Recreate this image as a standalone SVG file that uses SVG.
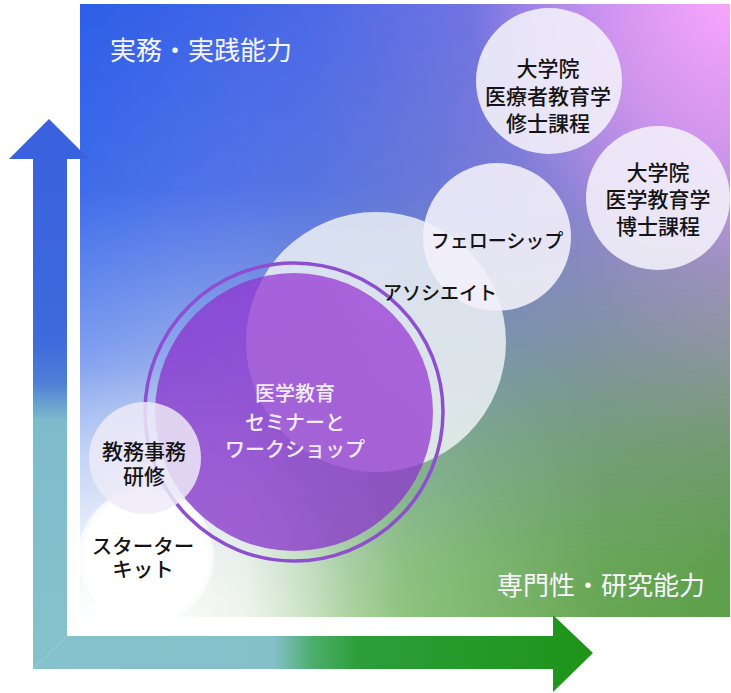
<svg xmlns="http://www.w3.org/2000/svg" width="731" height="693" viewBox="0 0 731 693">
<defs>
<style>
text{font-family:"Liberation Sans","Noto Sans CJK JP","Noto Sans CJK SC",sans-serif;text-anchor:middle;font-weight:500}
.dk{fill:#141414;font-size:21px}
.sk{fill:#141414;font-size:20.5px}
.md{fill:#141414;font-size:19px}
.wt{fill:#f3ecfa;font-size:20px}
.ax{fill:#f6f6fb;font-size:26px;text-anchor:start;font-weight:400}
.lt{fill:#f2eff9;fill-opacity:0.9}
</style>
<linearGradient id="gTop" gradientUnits="userSpaceOnUse" x1="80" y1="0" x2="731" y2="0">
<stop offset="0" stop-color="#2c5ee8"/>
<stop offset="0.35" stop-color="#4b68e6"/>
<stop offset="0.62" stop-color="#7474e2"/>
<stop offset="0.85" stop-color="#a184e6"/>
<stop offset="1" stop-color="#b88cec"/>
</linearGradient>
<linearGradient id="gBot" gradientUnits="userSpaceOnUse" x1="80" y1="0" x2="731" y2="0">
<stop offset="0" stop-color="#d8e4f8"/>
<stop offset="0.15" stop-color="#eef4f0"/>
<stop offset="0.25" stop-color="#e8f1e4"/>
<stop offset="0.5" stop-color="#8ec47e"/>
<stop offset="0.8" stop-color="#68a854"/>
<stop offset="1" stop-color="#5ca048"/>
</linearGradient>
<linearGradient id="gMask" x1="0" y1="0" x2="0" y2="1">
<stop offset="0" stop-color="#fff"/>
<stop offset="0.3" stop-color="#e6e6e6"/>
<stop offset="0.55" stop-color="#8c8c8c"/>
<stop offset="0.72" stop-color="#404040"/>
<stop offset="0.9" stop-color="#0d0d0d"/>
<stop offset="1" stop-color="#000"/>
</linearGradient>
<mask id="mTop" maskUnits="userSpaceOnUse" x="0" y="0" width="731" height="693">
<rect x="80" y="4" width="650" height="613" fill="url(#gMask)"/>
</mask>
<radialGradient id="gPink" gradientUnits="userSpaceOnUse" cx="731" cy="4" r="260">
<stop offset="0" stop-color="#f6a6fb" stop-opacity="1"/>
<stop offset="0.5" stop-color="#ee9ef6" stop-opacity="0.6"/>
<stop offset="1" stop-color="#e49af0" stop-opacity="0"/>
</radialGradient>
<radialGradient id="gWhite" gradientUnits="userSpaceOnUse" cx="100" cy="617" r="250">
<stop offset="0" stop-color="#ffffff" stop-opacity="1"/>
<stop offset="0.5" stop-color="#ffffff" stop-opacity="0.35"/>
<stop offset="1" stop-color="#ffffff" stop-opacity="0"/>
</radialGradient>
<linearGradient id="gPurple" x1="1" y1="0" x2="0" y2="1">
<stop offset="0" stop-color="#9a34d6"/>
<stop offset="1" stop-color="#7e28c6"/>
</linearGradient>
<radialGradient id="gStart" cx="0.5" cy="0.5" r="0.5">
<stop offset="0" stop-color="#ffffff"/>
<stop offset="0.9" stop-color="#ffffff"/>
<stop offset="1" stop-color="#ffffff" stop-opacity="0.6"/>
</radialGradient>
<linearGradient id="gUp" gradientUnits="userSpaceOnUse" x1="0" y1="119" x2="0" y2="669">
<stop offset="0" stop-color="#3a60de"/>
<stop offset="0.4" stop-color="#3e6adc"/>
<stop offset="0.48" stop-color="#4d80d6"/>
<stop offset="0.55" stop-color="#7fbccb"/>
<stop offset="1" stop-color="#86c2cc"/>
</linearGradient>
<linearGradient id="gRight" gradientUnits="userSpaceOnUse" x1="33" y1="0" x2="593" y2="0">
<stop offset="0" stop-color="#86c2cc"/>
<stop offset="0.43" stop-color="#84c0c8"/>
<stop offset="0.5" stop-color="#4cae6a"/>
<stop offset="0.58" stop-color="#2c9e3a"/>
<stop offset="1" stop-color="#1e9418"/>
</linearGradient>
</defs>

<g id="background">
<rect x="80" y="4" width="650" height="613" fill="url(#gBot)"/>
<rect x="80" y="4" width="650" height="613" fill="url(#gTop)" mask="url(#mTop)"/>
<rect x="80" y="4" width="650" height="613" fill="url(#gPink)"/>
<rect x="80" y="4" width="650" height="613" fill="url(#gWhite)"/>
</g>

<g id="axes">
<polygon points="49,119 89,159 67,159 67,636 33,669 33,159 9,159" fill="url(#gUp)"/>
<polygon points="33,669 67,636 553,636 553,615 593,653 553,692 553,669" fill="url(#gRight)"/>
<text class="ax" x="110" y="60">実務・実践能力</text>
<text class="ax" x="497" y="595">専門性・研究能力</text>
</g>

<g id="node-master">
<circle class="lt" cx="549" cy="81" r="73"/>
<text class="dk" x="548" y="76">大学院</text>
<text class="dk" x="548" y="104">医療者教育学</text>
<text class="dk" x="548" y="131">修士課程</text>
</g>

<g id="node-doctor">
<circle class="lt" cx="658" cy="198" r="72"/>
<text class="dk" x="658" y="180">大学院</text>
<text class="dk" x="658" y="207">医学教育学</text>
<text class="dk" x="658" y="234">博士課程</text>
</g>

<g id="node-associate">
<circle cx="376" cy="342" r="130" fill="#eef2f6" fill-opacity="0.84"/>
</g>

<g id="node-fellowship">
<circle class="lt" cx="497" cy="237" r="74"/>
<text class="md" x="497" y="248">フェローシップ</text>
</g>

<g id="node-starter">
<circle cx="146" cy="556" r="68" fill="url(#gStart)"/>
<text class="sk" x="143" y="554">スターター</text>
<text class="sk" x="143" y="577">キット</text>
</g>

<g id="node-seminar">
<circle cx="294" cy="412" r="139" fill="url(#gPurple)" fill-opacity="0.72"/>
<circle cx="294" cy="412" r="149" fill="none" stroke="#8e4ed0" stroke-width="3.5"/>
<text class="wt" x="295" y="401">医学教育</text>
<text class="wt" x="295" y="430">セミナーと</text>
<text class="wt" x="295" y="457">ワークショップ</text>
</g>

<g id="node-kyomu">
<circle cx="145" cy="458" r="56" fill="#eeebf8" fill-opacity="0.84"/>
<text class="dk" x="144" y="459">教務事務</text>
<text class="dk" x="144" y="484">研修</text>
</g>

<g id="labels">
<text class="md" x="440" y="300">アソシエイト</text>
</g>
</svg>
